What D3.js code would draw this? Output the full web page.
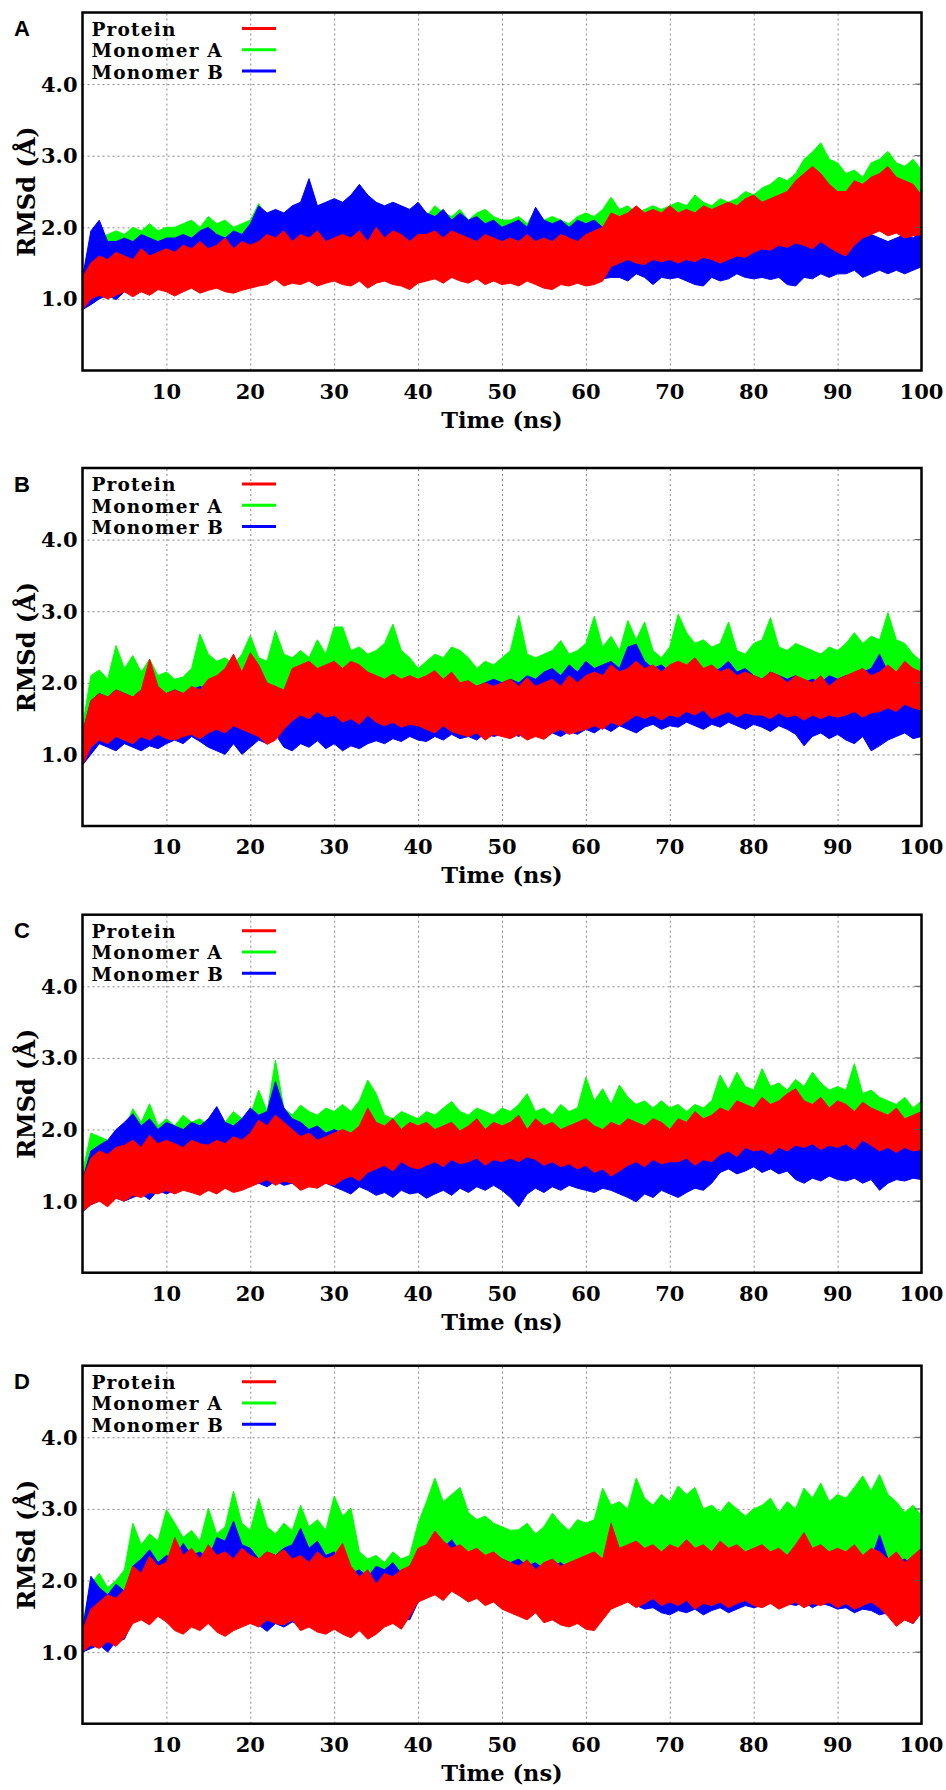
<!DOCTYPE html>
<html>
<head>
<meta charset="utf-8">
<script src="https://cdnjs.cloudflare.com/ajax/libs/d3/7.8.5/d3.min.js"></script>
<style>
  body { margin: 0; background: #fff; }
  .tick-label { font-family: "DejaVu Serif", serif; font-weight: bold; font-size: 21px; fill: #000; }
  .axis-title { font-family: "DejaVu Serif", serif; font-weight: bold; font-size: 22.5px; fill: #000; }
  .y-title { font-family: "DejaVu Serif", serif; font-weight: bold; font-size: 24px; fill: #000; }
  .legend-text { font-family: "DejaVu Serif", serif; font-weight: bold; font-size: 18.5px; letter-spacing: 1.2px; fill: #000; }
  .panel-letter { font-family: "Liberation Sans", Arial, sans-serif; font-weight: bold; font-size: 22px; fill: #000; }
</style>
</head>
<body>
<div id="chart"></div>
<script>
// RMSd traces, 0-100 ns, every 1 ns as low / high envelope
var timeNs = d3.range(0, 101, 1);

var xTickLabels = [10, 20, 30, 40, 50, 60, 70, 80, 90, 100];
var yTickLabels = [1.0, 2.0, 3.0, 4.0];
var seriesNames = ["Protein", "Monomer A", "Monomer B"];
var panelLetters = ["A", "B", "C", "D"];

// ---- panel A ----
var redHiA = [1.30,1.50,1.60,1.55,1.65,1.60,1.55,1.70,1.60,1.65,1.70,
  1.65,1.75,1.70,1.80,1.70,1.75,1.85,1.70,1.80,1.75,
  1.80,1.90,1.85,1.95,1.80,1.90,1.85,1.95,1.80,1.85,
  1.90,1.85,1.95,1.80,2.00,1.85,1.95,1.90,1.80,1.90,
  1.90,1.95,1.85,1.95,1.90,1.85,1.80,1.90,1.85,1.80,
  1.85,1.80,1.90,1.80,1.85,1.80,1.90,1.85,1.80,1.90,
  1.95,2.00,2.20,2.15,2.20,2.30,2.20,2.25,2.20,2.30,
  2.20,2.25,2.20,2.30,2.25,2.30,2.35,2.30,2.40,2.45,
  2.35,2.40,2.45,2.50,2.65,2.75,2.85,2.75,2.60,2.50,
  2.50,2.65,2.60,2.70,2.75,2.85,2.70,2.65,2.60,2.45];
var redLoA = [0.85,1.00,1.05,1.00,1.05,1.10,1.03,1.10,1.05,1.13,1.10,
  1.04,1.10,1.15,1.08,1.12,1.15,1.10,1.08,1.12,1.15,
  1.18,1.20,1.27,1.18,1.22,1.20,1.25,1.18,1.22,1.25,
  1.20,1.18,1.25,1.15,1.22,1.25,1.20,1.18,1.13,1.22,
  1.25,1.28,1.22,1.30,1.25,1.22,1.28,1.20,1.25,1.20,
  1.22,1.18,1.25,1.20,1.15,1.13,1.20,1.18,1.22,1.18,
  1.20,1.25,1.45,1.50,1.55,1.50,1.48,1.55,1.52,1.55,
  1.50,1.55,1.52,1.58,1.55,1.50,1.55,1.60,1.58,1.65,
  1.70,1.68,1.75,1.72,1.78,1.75,1.70,1.80,1.72,1.65,
  1.60,1.75,1.85,1.90,1.95,1.88,1.92,1.85,1.88,1.90];
var greenHiA = [1.30,1.70,1.85,1.90,1.95,1.90,2.00,1.95,2.05,1.95,2.00,
  2.00,2.05,2.10,2.00,2.15,2.05,2.10,2.00,2.05,2.10,
  2.33,2.15,2.10,2.20,2.15,2.10,2.20,2.15,2.10,2.20,
  2.15,2.20,2.10,2.20,2.15,2.20,2.25,2.20,2.15,2.20,
  2.15,2.30,2.20,2.15,2.25,2.10,2.20,2.25,2.15,2.10,
  2.10,2.15,2.05,2.25,2.10,2.15,2.10,2.05,2.15,2.20,
  2.15,2.25,2.42,2.25,2.30,2.20,2.25,2.30,2.25,2.30,
  2.35,2.30,2.45,2.35,2.30,2.40,2.35,2.40,2.50,2.45,
  2.55,2.60,2.70,2.65,2.75,2.95,3.05,3.18,2.95,2.90,
  2.75,2.80,2.70,2.90,2.95,3.06,2.90,2.85,2.95,2.80];
var greenLoA = [0.95,1.10,1.15,1.12,1.15,1.20,1.15,1.20,1.18,1.22,1.20,
  1.18,1.22,1.25,1.20,1.25,1.28,1.22,1.20,1.25,1.28,
  1.30,1.32,1.38,1.30,1.35,1.32,1.38,1.30,1.35,1.38,
  1.32,1.30,1.38,1.28,1.35,1.38,1.32,1.30,1.28,1.35,
  1.38,1.40,1.35,1.42,1.38,1.35,1.40,1.32,1.38,1.32,
  1.35,1.30,1.38,1.32,1.28,1.25,1.32,1.30,1.35,1.30,
  1.32,1.38,1.58,1.62,1.68,1.62,1.60,1.68,1.65,1.68,
  1.62,1.68,1.65,1.70,1.68,1.62,1.68,1.72,1.70,1.78,
  1.82,1.80,1.88,1.85,1.90,1.88,1.82,1.92,1.85,1.78,
  1.75,1.88,1.98,2.02,2.08,2.00,2.05,1.98,2.00,2.02];
var blueHiA = [1.30,1.95,2.10,1.80,1.80,1.85,1.80,1.90,1.85,1.80,1.85,
  1.85,1.90,1.85,1.95,2.00,1.90,1.85,1.95,1.90,2.05,
  2.30,2.20,2.25,2.20,2.30,2.35,2.68,2.30,2.35,2.40,
  2.35,2.45,2.60,2.45,2.35,2.30,2.35,2.30,2.25,2.35,
  2.20,2.15,2.25,2.10,2.20,2.10,2.15,2.05,2.10,2.00,
  2.05,2.10,2.00,2.28,2.10,2.05,2.10,2.00,2.10,2.05,
  2.10,2.00,2.00,1.95,1.90,2.00,1.90,1.95,1.90,1.85,
  1.90,1.85,1.90,1.95,1.90,1.85,1.90,1.95,1.90,1.85,
  1.85,1.80,1.85,1.90,1.95,2.00,2.05,1.95,1.90,1.85,
  1.90,1.95,1.85,1.90,1.85,1.80,1.85,1.90,1.85,1.95];
var blueLoA = [0.85,0.92,1.00,1.05,0.99,1.10,1.08,1.15,1.10,1.15,1.15,
  1.18,1.22,1.20,1.25,1.22,1.20,1.25,1.22,1.28,1.25,
  1.30,1.28,1.32,1.30,1.35,1.30,1.32,1.35,1.30,1.35,
  1.35,1.38,1.32,1.35,1.40,1.35,1.38,1.35,1.32,1.35,
  1.30,1.32,1.28,1.30,1.35,1.30,1.28,1.32,1.30,1.28,
  1.30,1.32,1.28,1.30,1.28,1.32,1.30,1.28,1.32,1.30,
  1.30,1.28,1.30,1.30,1.25,1.35,1.30,1.20,1.30,1.28,
  1.30,1.25,1.20,1.18,1.30,1.25,1.28,1.35,1.30,1.28,
  1.30,1.27,1.30,1.20,1.18,1.30,1.28,1.35,1.30,1.35,
  1.35,1.40,1.30,1.35,1.40,1.35,1.40,1.35,1.40,1.45];

// ---- panel B ----
var redHiB = [1.30,1.75,1.85,1.80,1.90,1.85,1.80,1.90,2.33,1.95,1.85,
  1.90,1.85,1.95,1.90,2.05,2.10,2.20,2.40,2.15,2.42,
  2.25,2.00,1.95,1.90,2.20,2.25,2.30,2.20,2.25,2.30,
  2.20,2.30,2.25,2.15,2.10,2.05,2.12,2.05,2.10,2.05,
  2.10,2.17,2.05,2.15,2.00,2.03,1.95,2.00,1.95,2.00,
  2.05,1.95,2.07,1.95,2.00,2.05,1.95,2.10,2.00,2.10,
  2.15,2.10,2.25,2.15,2.20,2.30,2.20,2.25,2.15,2.25,
  2.30,2.25,2.35,2.20,2.25,2.15,2.20,2.10,2.15,2.10,
  2.05,2.15,2.10,2.00,2.10,2.05,2.00,2.10,1.95,2.05,
  2.10,2.15,2.20,2.10,2.15,2.25,2.15,2.30,2.20,2.15];
var redLoB = [0.85,1.10,1.20,1.15,1.25,1.20,1.15,1.25,1.20,1.28,1.22,
  1.20,1.25,1.28,1.22,1.30,1.35,1.30,1.40,1.35,1.30,
  1.25,1.14,1.20,1.35,1.47,1.55,1.50,1.60,1.52,1.55,
  1.45,1.50,1.42,1.55,1.45,1.40,1.45,1.38,1.42,1.40,
  1.35,1.30,1.40,1.32,1.28,1.25,1.30,1.20,1.28,1.25,
  1.22,1.28,1.20,1.25,1.21,1.30,1.35,1.28,1.32,1.35,
  1.40,1.35,1.45,1.40,1.47,1.55,1.50,1.55,1.48,1.55,
  1.52,1.60,1.55,1.62,1.50,1.55,1.60,1.52,1.58,1.55,
  1.55,1.50,1.58,1.52,1.55,1.48,1.55,1.50,1.55,1.52,
  1.55,1.60,1.52,1.58,1.60,1.65,1.60,1.70,1.65,1.62];
var greenHiB = [1.40,2.10,2.18,2.05,2.52,2.20,2.38,2.15,2.33,2.10,2.15,
  2.05,2.08,2.20,2.68,2.40,2.30,2.35,2.25,2.40,2.66,
  2.35,2.30,2.73,2.40,2.35,2.45,2.35,2.60,2.40,2.78,
  2.78,2.45,2.50,2.40,2.45,2.55,2.82,2.45,2.35,2.20,
  2.30,2.40,2.35,2.50,2.45,2.35,2.20,2.30,2.25,2.35,
  2.45,2.94,2.40,2.35,2.40,2.45,2.59,2.40,2.45,2.55,
  2.93,2.50,2.65,2.45,2.87,2.60,2.85,2.45,2.35,2.50,
  2.96,2.70,2.55,2.60,2.50,2.55,2.85,2.45,2.40,2.55,
  2.60,2.91,2.50,2.45,2.55,2.50,2.45,2.40,2.50,2.45,
  2.55,2.70,2.55,2.65,2.60,2.98,2.60,2.55,2.40,2.30];
var greenLoB = [0.95,1.25,1.35,1.30,1.40,1.35,1.30,1.40,1.35,1.42,1.38,
  1.35,1.40,1.42,1.38,1.45,1.50,1.45,1.55,1.50,1.45,
  1.40,1.30,1.35,1.50,1.62,1.70,1.65,1.75,1.68,1.70,
  1.60,1.65,1.58,1.70,1.60,1.55,1.60,1.52,1.58,1.55,
  1.50,1.45,1.55,1.48,1.42,1.40,1.45,1.35,1.42,1.40,
  1.38,1.42,1.35,1.40,1.36,1.45,1.50,1.42,1.48,1.50,
  1.55,1.50,1.60,1.55,1.62,1.70,1.65,1.70,1.62,1.70,
  1.68,1.75,1.70,1.78,1.65,1.70,1.75,1.68,1.72,1.70,
  1.70,1.65,1.72,1.68,1.70,1.62,1.70,1.65,1.70,1.68,
  1.70,1.75,1.68,1.72,1.75,1.80,1.75,1.85,1.80,1.78];
var blueHiB = [1.30,1.75,1.85,1.80,1.90,1.85,1.80,1.90,1.85,1.80,1.85,
  1.90,1.85,1.90,1.95,1.90,1.85,1.95,1.90,1.95,2.00,
  1.95,1.90,1.95,1.85,1.90,1.95,1.90,2.00,1.95,1.90,
  1.95,1.90,1.85,1.90,1.95,1.90,2.00,1.95,1.90,1.95,
  1.95,2.00,1.95,2.05,1.95,2.00,1.95,2.00,2.05,2.00,
  2.05,2.00,2.10,2.05,2.15,2.20,2.10,2.25,2.15,2.30,
  2.20,2.25,2.30,2.20,2.50,2.54,2.30,2.20,2.25,2.15,
  2.20,2.15,2.10,2.20,2.15,2.20,2.30,2.15,2.20,2.10,
  2.05,2.15,2.10,2.05,2.10,2.00,2.05,2.00,2.10,2.05,
  2.10,2.05,2.15,2.20,2.40,2.15,2.10,2.20,2.05,1.95];
var blueLoB = [0.85,1.00,1.15,1.10,1.05,1.15,1.10,1.05,1.12,1.08,1.15,
  1.20,1.15,1.25,1.18,1.10,1.05,1.00,1.15,1.00,1.10,
  1.20,1.15,1.28,1.10,1.05,1.15,1.10,1.19,1.08,1.15,
  1.05,1.12,1.08,1.15,1.19,1.15,1.22,1.18,1.25,1.20,
  1.18,1.25,1.20,1.28,1.22,1.25,1.20,1.30,1.25,1.28,
  1.30,1.25,1.32,1.28,1.35,1.30,1.25,1.32,1.28,1.35,
  1.30,1.38,1.32,1.40,1.35,1.30,1.38,1.42,1.35,1.40,
  1.38,1.45,1.40,1.35,1.42,1.38,1.45,1.40,1.35,1.42,
  1.38,1.32,1.40,1.35,1.28,1.12,1.25,1.30,1.22,1.28,
  1.20,1.15,1.25,1.05,1.12,1.20,1.25,1.30,1.22,1.25];

// ---- panel C ----
var redHiC = [1.30,1.60,1.70,1.65,1.75,1.78,1.85,1.75,1.92,1.80,1.85,
  1.80,1.75,1.85,1.80,1.78,1.85,1.80,1.90,1.85,1.95,
  2.13,2.05,2.20,2.10,2.00,1.90,1.95,1.85,1.90,1.95,
  2.00,1.95,2.05,2.30,2.10,2.05,2.15,2.00,2.10,2.05,
  2.10,2.00,2.05,2.10,1.98,2.05,2.15,2.00,2.10,2.05,
  2.10,2.20,2.00,2.15,2.05,2.10,2.00,2.05,2.10,2.15,
  2.05,2.00,2.10,2.05,2.15,2.10,2.05,2.15,2.10,2.00,
  2.15,2.10,2.25,2.15,2.20,2.30,2.25,2.40,2.35,2.30,
  2.45,2.35,2.40,2.50,2.57,2.40,2.35,2.45,2.30,2.40,
  2.35,2.25,2.38,2.30,2.25,2.20,2.30,2.15,2.20,2.25];
var redLoC = [0.85,0.95,1.00,0.92,1.04,1.00,1.08,1.05,1.12,1.10,1.15,
  1.10,1.15,1.12,1.08,1.15,1.10,1.18,1.12,1.15,1.20,
  1.25,1.30,1.22,1.28,1.25,1.15,1.20,1.18,1.25,1.22,
  1.30,1.35,1.28,1.40,1.45,1.50,1.42,1.55,1.48,1.45,
  1.50,1.55,1.48,1.58,1.52,1.55,1.60,1.50,1.58,1.55,
  1.60,1.55,1.62,1.58,1.50,1.55,1.48,1.52,1.45,1.50,
  1.40,1.45,1.35,1.42,1.50,1.55,1.48,1.58,1.52,1.55,
  1.55,1.60,1.50,1.58,1.55,1.65,1.70,1.62,1.75,1.70,
  1.72,1.65,1.75,1.70,1.78,1.75,1.80,1.72,1.78,1.75,
  1.80,1.72,1.85,1.78,1.70,1.75,1.68,1.75,1.70,1.72];
var greenHiC = [1.40,1.95,1.90,1.85,1.95,2.00,2.29,2.10,2.36,2.05,2.15,
  2.05,2.20,2.10,2.15,2.05,2.20,2.10,2.25,2.15,2.20,
  2.55,2.25,2.97,2.30,2.20,2.34,2.25,2.20,2.30,2.25,
  2.35,2.25,2.40,2.69,2.50,2.20,2.15,2.25,2.20,2.15,
  2.25,2.20,2.30,2.39,2.25,2.20,2.30,2.25,2.20,2.30,
  2.25,2.35,2.50,2.25,2.30,2.20,2.35,2.25,2.30,2.73,
  2.40,2.57,2.35,2.62,2.45,2.35,2.40,2.30,2.40,2.30,
  2.35,2.25,2.35,2.30,2.40,2.76,2.55,2.80,2.60,2.55,
  2.85,2.60,2.65,2.55,2.70,2.60,2.80,2.65,2.55,2.60,
  2.55,2.92,2.50,2.55,2.45,2.40,2.35,2.45,2.30,2.40];
var greenLoC = [0.95,1.05,1.10,1.02,1.14,1.10,1.18,1.15,1.22,1.20,1.25,
  1.20,1.25,1.22,1.18,1.25,1.20,1.28,1.22,1.25,1.30,
  1.35,1.40,1.32,1.38,1.35,1.25,1.30,1.28,1.35,1.32,
  1.40,1.45,1.38,1.50,1.55,1.60,1.52,1.65,1.58,1.55,
  1.60,1.65,1.58,1.68,1.62,1.65,1.70,1.60,1.68,1.65,
  1.70,1.65,1.72,1.68,1.60,1.65,1.58,1.62,1.55,1.60,
  1.50,1.55,1.45,1.52,1.60,1.65,1.58,1.68,1.62,1.65,
  1.65,1.70,1.60,1.68,1.65,1.75,1.80,1.72,1.85,1.80,
  1.82,1.75,1.85,1.80,1.88,1.85,1.90,1.82,1.88,1.85,
  1.90,1.82,1.95,1.88,1.80,1.85,1.78,1.85,1.80,1.82];
var blueHiC = [1.30,1.70,1.78,1.85,2.00,2.10,2.22,2.05,2.15,2.00,2.10,
  2.05,2.00,2.10,2.05,2.15,2.32,2.10,2.05,2.15,2.30,
  2.20,2.25,2.67,2.30,2.15,2.10,2.00,2.05,1.95,2.00,
  1.95,1.90,1.85,1.95,1.90,1.85,1.90,1.85,1.80,1.85,
  1.85,1.90,1.80,1.85,1.90,1.85,1.80,1.85,1.90,1.85,
  1.90,1.85,1.80,1.85,1.90,1.95,1.85,1.90,1.95,1.90,
  1.85,1.90,1.95,1.85,1.90,1.85,1.80,1.90,1.85,1.90,
  1.85,1.90,1.95,1.90,2.00,2.10,2.05,2.00,2.10,2.05,
  2.05,2.10,2.00,2.05,2.10,2.05,2.00,2.10,2.05,2.00,
  2.05,2.00,1.95,2.05,2.00,1.95,2.00,1.95,2.00,2.05];
var blueLoC = [0.85,0.95,1.00,0.97,1.04,1.00,1.05,1.10,1.02,1.15,1.10,
  1.15,1.18,1.12,1.20,1.15,1.22,1.18,1.25,1.20,1.22,
  1.25,1.20,1.28,1.22,1.25,1.20,1.28,1.22,1.25,1.20,
  1.15,1.10,1.20,1.15,1.08,1.12,1.05,1.15,1.10,1.12,
  1.04,1.10,1.15,1.08,1.18,1.12,1.20,1.15,1.22,1.15,
  1.05,0.92,1.10,1.18,1.12,1.20,1.15,1.22,1.18,1.15,
  1.12,1.18,1.15,1.10,1.05,0.99,1.10,1.05,1.15,1.10,
  1.05,1.12,1.18,1.15,1.25,1.40,1.45,1.38,1.42,1.48,
  1.40,1.45,1.38,1.42,1.30,1.25,1.32,1.28,1.35,1.30,
  1.28,1.32,1.25,1.30,1.15,1.25,1.30,1.28,1.32,1.30];

// ---- panel D ----
var redHiD = [1.30,1.60,1.70,1.80,1.75,1.87,2.20,2.10,2.34,2.20,2.25,
  2.60,2.35,2.45,2.30,2.50,2.35,2.40,2.30,2.45,2.35,
  2.30,2.40,2.35,2.43,2.30,2.35,2.25,2.40,2.30,2.35,
  2.52,2.20,2.05,2.15,1.95,2.10,2.05,2.15,2.20,2.45,
  2.50,2.69,2.55,2.45,2.50,2.40,2.45,2.35,2.40,2.30,
  2.25,2.20,2.29,2.15,2.25,2.30,2.20,2.25,2.30,2.35,
  2.40,2.30,2.80,2.45,2.50,2.55,2.45,2.50,2.40,2.50,
  2.45,2.57,2.45,2.50,2.40,2.55,2.45,2.50,2.40,2.45,
  2.50,2.40,2.45,2.35,2.50,2.67,2.45,2.50,2.40,2.45,
  2.40,2.50,2.35,2.45,2.40,2.30,2.40,2.25,2.35,2.45];
var redLoD = [1.00,1.10,1.05,1.15,1.08,1.20,1.40,1.45,1.38,1.50,1.42,
  1.30,1.25,1.35,1.30,1.40,1.28,1.22,1.30,1.35,1.40,
  1.35,1.45,1.40,1.38,1.45,1.30,1.35,1.28,1.25,1.32,
  1.25,1.20,1.30,1.18,1.25,1.35,1.40,1.32,1.50,1.70,
  1.75,1.80,1.72,1.85,1.78,1.70,1.75,1.65,1.70,1.60,
  1.55,1.50,1.45,1.55,1.41,1.45,1.38,1.35,1.40,1.32,
  1.30,1.45,1.60,1.65,1.70,1.62,1.68,1.75,1.65,1.70,
  1.65,1.72,1.60,1.68,1.65,1.70,1.62,1.68,1.72,1.65,
  1.62,1.68,1.60,1.65,1.70,1.62,1.68,1.65,1.70,1.62,
  1.68,1.60,1.65,1.70,1.62,1.50,1.36,1.45,1.40,1.55];
var greenHiD = [1.40,1.95,2.10,1.90,2.00,2.15,2.80,2.50,2.65,2.55,2.99,
  2.80,2.60,2.70,2.55,3.01,2.65,2.75,3.25,2.80,2.70,
  3.15,2.75,2.65,2.80,2.70,3.05,2.75,2.85,2.70,3.18,
  2.90,3.01,2.40,2.30,2.35,2.25,2.40,2.30,2.35,2.80,
  3.10,3.43,3.10,3.20,3.30,2.95,2.85,2.90,2.80,2.75,
  2.70,2.71,2.80,2.65,2.75,2.94,2.80,2.70,2.85,2.80,
  2.85,3.29,3.05,3.10,3.00,3.43,3.15,3.05,3.20,3.10,
  3.32,3.20,3.30,3.00,3.05,2.95,3.10,3.00,2.90,3.00,
  3.05,3.15,2.95,3.10,3.00,3.29,3.15,3.36,3.10,3.20,
  3.15,3.30,3.46,3.25,3.48,3.20,3.10,2.95,3.05,2.90];
var greenLoD = [1.05,1.15,1.10,1.20,1.15,1.25,1.55,1.60,1.55,1.62,1.58,
  1.55,1.50,1.58,1.52,1.60,1.55,1.50,1.58,1.55,1.60,
  1.55,1.60,1.58,1.55,1.62,1.58,1.55,1.60,1.52,1.58,
  1.55,1.50,1.55,1.48,1.55,1.60,1.62,1.58,1.70,1.85,
  1.95,2.00,1.92,2.00,1.95,1.90,1.95,1.85,1.90,1.85,
  1.80,1.78,1.75,1.80,1.72,1.75,1.70,1.68,1.72,1.70,
  1.72,1.80,1.85,1.88,1.90,1.85,1.88,1.92,1.85,1.88,
  1.85,1.90,1.82,1.88,1.85,1.90,1.85,1.88,1.90,1.85,
  1.85,1.88,1.82,1.85,1.90,1.85,1.88,1.85,1.90,1.85,
  1.88,1.82,1.85,1.90,1.85,1.80,1.75,1.78,1.75,1.80];
var blueHiD = [1.30,2.06,1.90,1.80,1.95,1.85,2.20,2.30,2.43,2.25,2.35,
  2.30,2.52,2.35,2.40,2.30,2.60,2.55,2.83,2.50,2.45,
  2.30,2.40,2.35,2.45,2.50,2.73,2.45,2.55,2.35,2.40,
  2.20,2.10,2.15,2.05,2.20,2.15,2.25,2.10,2.20,2.40,
  2.50,2.55,2.45,2.57,2.40,2.35,2.40,2.30,2.35,2.30,
  2.25,2.30,2.20,2.25,2.15,2.20,2.25,2.15,2.20,2.30,
  2.35,2.30,2.43,2.35,2.30,2.35,2.25,2.30,2.35,2.25,
  2.20,2.25,2.15,2.20,2.25,2.15,2.20,2.25,2.20,2.30,
  2.35,2.30,2.25,2.35,2.30,2.25,2.35,2.30,2.25,2.35,
  2.30,2.25,2.35,2.30,2.64,2.30,2.25,2.30,2.20,2.25];
var blueLoD = [1.00,1.05,1.10,1.00,1.15,1.18,1.45,1.50,1.48,1.50,1.45,
  1.40,1.45,1.38,1.42,1.45,1.40,1.45,1.38,1.42,1.40,
  1.38,1.29,1.40,1.35,1.42,1.38,1.45,1.40,1.35,1.40,
  1.38,1.42,1.35,1.40,1.45,1.48,1.42,1.50,1.45,1.70,
  1.80,1.85,1.78,1.90,1.82,1.75,1.80,1.72,1.78,1.70,
  1.65,1.70,1.60,1.55,1.62,1.58,1.50,1.55,1.48,1.55,
  1.55,1.62,1.70,1.68,1.72,1.65,1.60,1.62,1.55,1.52,
  1.58,1.55,1.60,1.52,1.58,1.62,1.55,1.60,1.65,1.62,
  1.65,1.70,1.62,1.68,1.65,1.70,1.62,1.68,1.65,1.60,
  1.62,1.55,1.60,1.58,1.52,1.55,1.50,1.45,1.40,1.55];

// layout
var svgWidth = 946;
var svgHeight = 1790;
var plotLeft = 82.5;
var plotRight = 921.5;
var plotHeight = 358;
var panelTops = [12.5, 468, 914.7, 1365.7];

var colors = {"Protein": "#ff0000", "Monomer A": "#00ff00", "Monomer B": "#0000ff"};

// series bundled per panel (draw order: Monomer A, Monomer B, Protein on top)
var panelData = [
  {"Protein": [redLoA, redHiA], "Monomer A": [greenLoA, greenHiA], "Monomer B": [blueLoA, blueHiA]},
  {"Protein": [redLoB, redHiB], "Monomer A": [greenLoB, greenHiB], "Monomer B": [blueLoB, blueHiB]},
  {"Protein": [redLoC, redHiC], "Monomer A": [greenLoC, greenHiC], "Monomer B": [blueLoC, blueHiC]},
  {"Protein": [redLoD, redHiD], "Monomer A": [greenLoD, greenHiD], "Monomer B": [blueLoD, blueHiD]}
];
var drawOrder = ["Monomer A", "Monomer B", "Protein"];

var svg = d3.select("#chart")
  .append("svg")
  .attr("width", svgWidth)
  .attr("height", svgHeight);

svg.append("rect")
  .attr("width", svgWidth)
  .attr("height", svgHeight)
  .attr("fill", "#fff");

var xScale = d3.scaleLinear()
  .domain([0, 100])
  .range([plotLeft, plotRight]);

panelTops.forEach(function(top, p) {
  var bottom = top + plotHeight;
  var yScale = d3.scaleLinear()
    .domain([0, 5])
    .range([bottom, top]);

  var g = svg.append("g");

  // clip for the traces
  g.append("clipPath")
    .attr("id", "clip" + p)
    .append("rect")
    .attr("x", plotLeft)
    .attr("y", top)
    .attr("width", plotRight - plotLeft)
    .attr("height", plotHeight);

  // dotted grid
  var xGrid = g.append("g")
    .attr("transform", `translate(0, ${bottom})`)
    .call(d3.axisBottom(xScale).tickValues(xTickLabels.slice(0, -1)).tickSize(-plotHeight).tickFormat(""));
  var yGrid = g.append("g")
    .attr("transform", `translate(${plotLeft}, 0)`)
    .call(d3.axisLeft(yScale).tickValues(yTickLabels).tickSize(-(plotRight - plotLeft)).tickFormat(""));
  [xGrid, yGrid].forEach(function(grid) {
    grid.select(".domain").remove();
    grid.selectAll("line")
      .attr("stroke", "#8a8a8a")
      .attr("stroke-width", 1)
      .attr("stroke-dasharray", "2,3");
  });

  // envelope bands
  var traces = g.append("g").attr("clip-path", `url(#clip${p})`);
  drawOrder.forEach(function(name) {
    var lo = panelData[p][name][0];
    var hi = panelData[p][name][1];
    var area = d3.area()
      .x(function(d, i) { return xScale(timeNs[i]); })
      .y0(function(d, i) { return yScale(lo[i]); })
      .y1(function(d, i) { return yScale(hi[i]); });
    traces.append("path")
      .datum(timeNs)
      .attr("d", area)
      .attr("fill", colors[name])
      .attr("stroke", colors[name])
      .attr("stroke-width", 1)
      .attr("stroke-linejoin", "miter");
  });

  // short inward ticks on the right edge
  g.selectAll(".rtick")
    .data(yTickLabels)
    .enter()
    .append("line")
    .attr("x1", plotRight - 7)
    .attr("x2", plotRight)
    .attr("y1", d => yScale(d))
    .attr("y2", d => yScale(d))
    .attr("stroke", "#555")
    .attr("stroke-width", 1);

  // frame
  g.append("rect")
    .attr("x", plotLeft)
    .attr("y", top)
    .attr("width", plotRight - plotLeft)
    .attr("height", plotHeight)
    .attr("fill", "none")
    .attr("stroke", "#000")
    .attr("stroke-width", 2.5);

  // tick labels
  g.selectAll(".xlab")
    .data(xTickLabels)
    .enter()
    .append("text")
    .attr("class", "tick-label")
    .attr("x", d => xScale(d))
    .attr("y", bottom + 28)
    .attr("text-anchor", "middle")
    .text(d => d);

  g.selectAll(".ylab")
    .data(yTickLabels)
    .enter()
    .append("text")
    .attr("class", "tick-label")
    .attr("x", plotLeft - 5)
    .attr("y", d => yScale(d) + 7.5)
    .attr("text-anchor", "end")
    .text(d => d3.format(".1f")(d));

  // axis titles
  g.append("text")
    .attr("class", "axis-title")
    .attr("x", (plotLeft + plotRight) / 2)
    .attr("y", bottom + 57)
    .attr("text-anchor", "middle")
    .text("Time (ns)");

  g.append("text")
    .attr("class", "y-title")
    .attr("transform", `translate(35, ${top + plotHeight / 2}) rotate(-90)`)
    .attr("text-anchor", "middle")
    .text("RMSd (Å)");

  // panel letter
  g.append("text")
    .attr("class", "panel-letter")
    .attr("x", 14)
    .attr("y", top + 23.5)
    .text(panelLetters[p]);

  // legend
  seriesNames.forEach(function(name, i) {
    g.append("text")
      .attr("class", "legend-text")
      .attr("x", plotLeft + 9)
      .attr("y", top + 23 + i * 21.5)
      .text(name);
    g.append("line")
      .attr("x1", 242)
      .attr("x2", 276)
      .attr("y1", top + 16 + i * 21.3)
      .attr("y2", top + 16 + i * 21.3)
      .attr("stroke", colors[name])
      .attr("stroke-width", 3);
  });
});
</script>
</body>
</html>
